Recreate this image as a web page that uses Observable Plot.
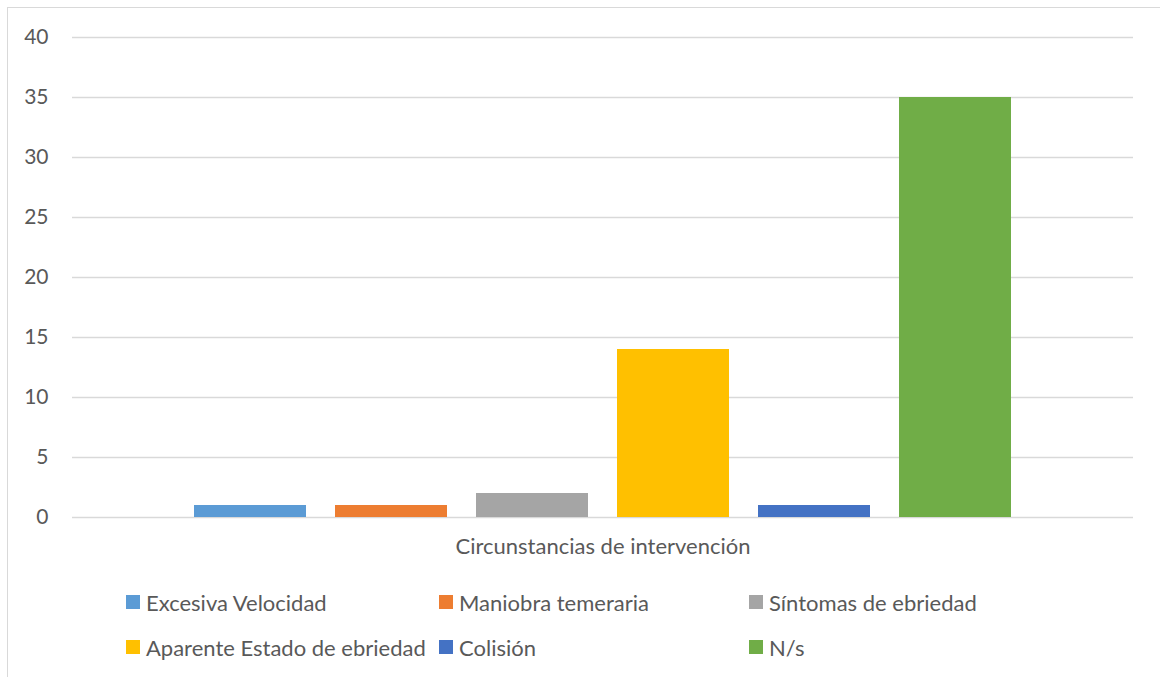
<!DOCTYPE html>
<html>
<head>
<meta charset="utf-8">
<script src="https://cdn.jsdelivr.net/npm/d3@7"></script>
<script src="https://cdn.jsdelivr.net/npm/@observablehq/plot@0.6"></script>
<style>
  html, body { margin: 0; padding: 0; background: #fff; }
  #wrap { position: relative; width: 1160px; height: 677px; overflow: hidden; font-family: Lato, "Open Sans", sans-serif; color: #595959; }
  #frame { position: absolute; left: 7px; top: 7px; width: 1200px; height: 700px; border-left: 1.5px solid #d9d9d9; border-top: 1.5px solid #d9d9d9; }
  #chart { position: absolute; left: 0; top: 0; }
  .leg { position: absolute; display: flex; align-items: center; font-size: 22px; white-space: nowrap; }
  .sw { width: 14px; height: 14px; margin-right: 6px; }
</style>
</head>
<body>
<div id="wrap"><div id="frame"></div><div id="chart"></div></div>
<script>
const categories = ["Excesiva Velocidad", "Maniobra temeraria", "Síntomas de ebriedad", "Aparente Estado de ebriedad", "Colisión", "N/s"];
const values = [1, 1, 2, 14, 1, 35];
const colors = ["#5B9BD5", "#ED7D31", "#A5A5A5", "#FFC000", "#4472C4", "#70AD47"];
const yTicks = [0, 5, 10, 15, 20, 25, 30, 35, 40];
const xLabel = "Circunstancias de intervención";

const data = categories.map((c, i) => ({category: c, value: values[i]}));

const chart = Plot.plot({
  width: 1160,
  height: 560,
  marginLeft: 72,
  marginRight: 27,
  marginTop: 37,
  marginBottom: 43,
  style: {fontFamily: "Lato, 'Open Sans', sans-serif", fontSize: "21px", color: "#595959", background: "transparent"},
  x: {type: "band", domain: categories, range: [178.5, 1025.5], paddingInner: 0.2057, paddingOuter: 0.1029, axis: null},
  y: {domain: [0, 40], ticks: yTicks, tickSize: 0, tickPadding: 24, label: null, grid: false},
  color: {domain: categories, range: colors},
  marks: [
    Plot.gridY(yTicks, {stroke: "#d9d9d9", strokeOpacity: 1, strokeWidth: 1.5}),
    Plot.barY(data, {x: "category", y: "value", fill: "category"}),
    Plot.text([xLabel], {frameAnchor: "bottom", dy: 36, fontSize: 22, fill: "#595959", text: d => d})
  ]
});
document.getElementById("chart").appendChild(chart);

const legPos = [[126, 602], [439, 602], [749, 602], [126, 647], [439, 647], [749, 647]];
const wrap = document.getElementById("wrap");
categories.forEach((c, i) => {
  const el = document.createElement("div");
  el.className = "leg";
  el.style.left = legPos[i][0] + "px";
  el.style.top = (legPos[i][1] - 14) + "px";
  el.style.height = "28px";
  const sw = document.createElement("div");
  sw.className = "sw";
  sw.style.background = colors[i];
  const t = document.createElement("span");
  t.textContent = c;
  el.appendChild(sw); el.appendChild(t);
  wrap.appendChild(el);
});
</script>
</body>
</html>
